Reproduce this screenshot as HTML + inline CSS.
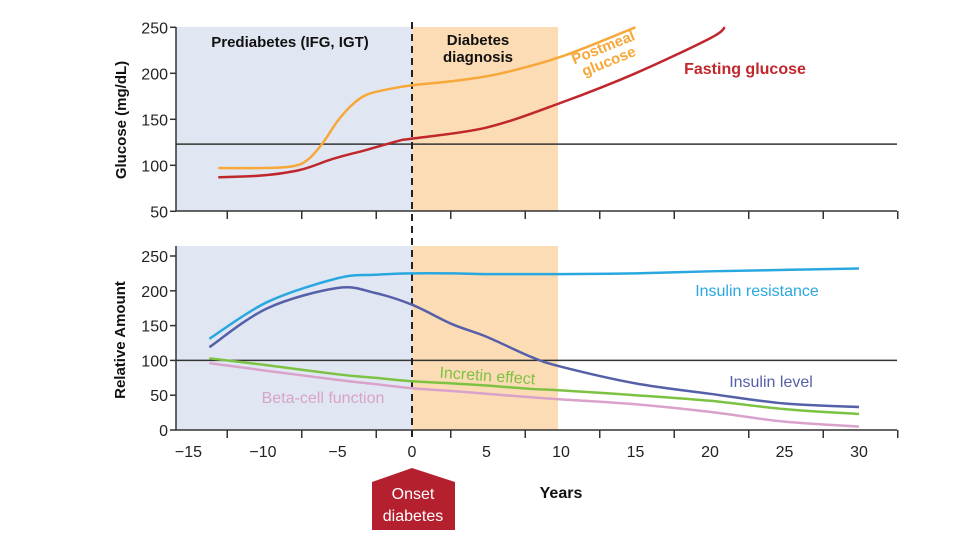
<!DOCTYPE html>
<html><head><meta charset="utf-8"><style>
body{margin:0;background:#fff}
svg{display:block;font-family:"Liberation Sans",Arial,sans-serif}
</style></head><body>
<svg id="c" width="977" height="543" viewBox="0 0 977 543"></svg>
<script>
const years=[-15,-10,-5,0,5,10,15,20,25,30];
const ticksGlu=[50,100,150,200,250];
const ticksRel=[0,50,100,150,200,250];
const postYears=[-13,-10,-8,-7,-6,-5,-4,-3,-1.5,0,3,6,10,15];
const postVals=[97,97,99,106,124,148,166,177,183,187,192,200,218,250];
const fastYears=[-13,-10,-7.5,-5.3,-3,-0.8,0,5,10,15,20,21];
const fastVals=[87,89,95,107,117,127,129,141,168,200,238,250];
const relYears=[-13.6,-9.7,-5,-2.5,0,2.7,5,8,10,15,20,25,30];
const resVals=[131,184,218,223,225,225,224,224,224,225,228,230,232];
const insVals=[119,175,204,197,180,152,134,105,91,67,52,38,33];
const incVals=[103,93,80,75,70,67,64,59,57,50,42,30,23];
const betaVals=[96,85,72,66,60,56,52,47,44,37,26,12,5];

const NS='http://www.w3.org/2000/svg',svg=document.getElementById('c');
function el(t,a,p){const e=document.createElementNS(NS,t);for(const k in a)e.setAttribute(k,a[k]);(p||svg).appendChild(e);return e;}
const X=y=>412+y*14.9;
const YG=v=>211.3-(v-50)*0.92;
const YR=v=>430-v*0.696;
function smooth(pts){let d='M'+pts[0][0]+','+pts[0][1];for(let i=0;i<pts.length-1;i++){const p0=pts[i-1]||pts[i],p1=pts[i],p2=pts[i+1],p3=pts[i+2]||p2;d+=' C'+(p1[0]+(p2[0]-p0[0])/6)+','+(p1[1]+(p2[1]-p0[1])/6)+' '+(p2[0]-(p3[0]-p1[0])/6)+','+(p2[1]-(p3[1]-p1[1])/6)+' '+p2[0]+','+p2[1];}return d;}
function txt(s,x,y,a,name){const t=el('text',a);t.textContent=s;t.setAttribute('x',x);t.setAttribute('y',y);return t;}

let r=el('rect',{x:176,y:27,width:236,height:184,fill:'#e1e7f2'});
r=el('rect',{x:412,y:27,width:146,height:184,fill:'#fcdcb5'});
r=el('rect',{x:176,y:246,width:236,height:184,fill:'#e1e7f2'});
r=el('rect',{x:412,y:246,width:146,height:184,fill:'#fcdcb5'});

let l=el('line',{x1:176,x2:897,y1:YG(123),y2:YG(123),stroke:'#333','stroke-width':1.5});
l=el('line',{x1:176,x2:897,y1:YR(100),y2:YR(100),stroke:'#333','stroke-width':1.5});

l=el('path',{d:'M176,27 V211 H897',fill:'none',stroke:'#333','stroke-width':1.5});
l=el('path',{d:'M176,246 V430 H897',fill:'none',stroke:'#333','stroke-width':1.5});
ticksGlu.forEach(v=>{const t=el('line',{x1:170,x2:176,y1:YG(v),y2:YG(v),stroke:'#333','stroke-width':1.5});
 txt(v,168,YG(v)+6,{'text-anchor':'end','font-size':16,fill:'#222'},'glucose-tick-label');});
ticksRel.forEach(v=>{const t=el('line',{x1:170,x2:176,y1:YR(v),y2:YR(v),stroke:'#333','stroke-width':1.5});
 txt(v,168,YR(v)+6,{'text-anchor':'end','font-size':16,fill:'#222'},'relative-tick-label');});
for(let k=0;k<10;k++){const yv=-12.4+5*k;
 let t=el('line',{x1:X(yv),x2:X(yv),y1:211,y2:219,stroke:'#333','stroke-width':1.5});
 t=el('line',{x1:X(yv),x2:X(yv),y1:430,y2:438,stroke:'#333','stroke-width':1.5});}
years.forEach(y=>txt(y<0?'\u2212'+(-y):y,X(y),457,{'text-anchor':'middle','font-size':16,fill:'#222'},'x-tick-label'));

l=el('line',{x1:412,x2:412,y1:22,y2:440,stroke:'#222','stroke-width':2,'stroke-dasharray':'7,5'});

function series(xs,vs,Y,color,name){const p=el('path',{d:smooth(xs.map((x,i)=>[X(x),Y(vs[i])])),fill:'none',stroke:color,'stroke-width':2.5});}
series(postYears,postVals,YG,'#f7a83a','postmeal-glucose-line');
series(fastYears,fastVals,YG,'#c0272d','fasting-glucose-line');
series(relYears,resVals,YR,'#29a8e0','insulin-resistance-line');
series(relYears,insVals,YR,'#5560a8','insulin-level-line');
series(relYears,incVals,YR,'#7dc242','incretin-effect-line');
series(relYears,betaVals,YR,'#d9a2cb','beta-cell-function-line');

txt('Prediabetes (IFG, IGT)',290,47,{'text-anchor':'middle','font-size':15,'font-weight':'bold',fill:'#111'},'prediabetes-label');
txt('Diabetes',478,45,{'text-anchor':'middle','font-size':15,'font-weight':'bold',fill:'#111'},'diagnosis-label-line1');
txt('diagnosis',478,62,{'text-anchor':'middle','font-size':15,'font-weight':'bold',fill:'#111'},'diagnosis-label-line2');
txt('Fasting glucose',745,74,{'text-anchor':'middle','font-size':16,'font-weight':'bold',fill:'#c0272d'},'fasting-glucose-label');
const pg=el('g',{transform:'translate(605,52) rotate(-22)'});
let t=el('text',{x:0,y:0,'text-anchor':'middle','font-size':15,'font-weight':'bold',fill:'#f7a83a'},pg);t.textContent='Postmeal';
t=el('text',{x:0,y:15,'text-anchor':'middle','font-size':15,'font-weight':'bold',fill:'#f7a83a'},pg);t.textContent='glucose';
txt('Insulin resistance',757,296,{'text-anchor':'middle','font-size':16,fill:'#29a8e0'},'insulin-resistance-label');
txt('Insulin level',771,387,{'text-anchor':'middle','font-size':16,fill:'#5560a8'},'insulin-level-label');
txt('Beta-cell function',323,403,{'text-anchor':'middle','font-size':16,fill:'#d9a2cb'},'beta-cell-function-label');
const ie=el('g',{transform:'translate(487,381) rotate(4)'});
t=el('text',{x:0,y:0,'text-anchor':'middle','font-size':16,fill:'#7dc242'},ie);t.textContent='Incretin effect';
let g=el('g',{transform:'translate(121,120) rotate(-90)'});
t=el('text',{x:0,y:5,'text-anchor':'middle','font-size':15,'font-weight':'bold',fill:'#111'},g);t.textContent='Glucose (mg/dL)';
g=el('g',{transform:'translate(120,340) rotate(-90)'});
t=el('text',{x:0,y:5,'text-anchor':'middle','font-size':15,'font-weight':'bold',fill:'#111'},g);t.textContent='Relative Amount';
txt('Years',561,498,{'text-anchor':'middle','font-size':16,'font-weight':'bold',fill:'#111'},'x-axis-title');
r=el('path',{d:'M372,482 L412,468 L455,482 L455,530 L372,530 Z',fill:'#b5202e'});
txt('Onset',413,499,{'text-anchor':'middle','font-size':16,fill:'#fff'},'onset-label-line1');
txt('diabetes',413,521,{'text-anchor':'middle','font-size':16,fill:'#fff'},'onset-label-line2');
</script>
</body></html>
